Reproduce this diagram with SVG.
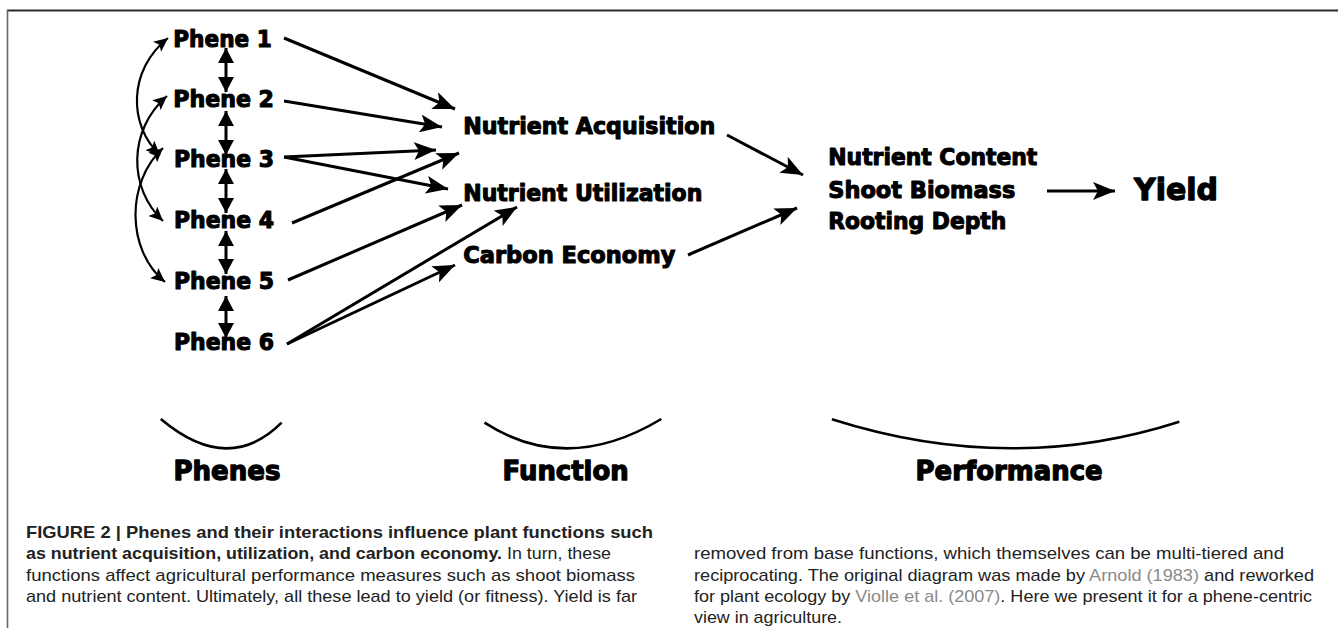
<svg xmlns="http://www.w3.org/2000/svg" width="1338" height="628" viewBox="0 0 1338 628">
<style>
.n{font-family:"DejaVu Sans","Liberation Sans",sans-serif;font-weight:bold;font-size:23px;fill:#000;stroke:#000;stroke-width:1.1;stroke-linejoin:round}
.y{font-size:30px;stroke-width:1.3}
.b{font-size:27px;stroke-width:1.3}
.c{font-family:"Liberation Sans","Noto Sans",sans-serif;font-size:17px;fill:#222}
.cb{font-weight:bold}
.lk{fill:#8a8a8a}
.a{fill:none;stroke:#000;stroke-width:3;marker-end:url(#ah)}
.d{fill:none;stroke:#000;stroke-width:3;marker-start:url(#dh);marker-end:url(#dh)}
.cv{fill:none;stroke:#000;stroke-width:2.2;marker-start:url(#ch);marker-end:url(#ch)}
.br{fill:none;stroke:#000;stroke-width:2.6}
</style>
<defs>
<marker id="ah" viewBox="0 0 22 18" refX="22" refY="9" markerWidth="22" markerHeight="18" markerUnits="userSpaceOnUse" orient="auto"><path d="M0,0 L22,9 L0,18 L5,9 z" fill="#000"/></marker>
<marker id="dh" viewBox="0 0 15 16" refX="15" refY="8" markerWidth="15" markerHeight="16" markerUnits="userSpaceOnUse" orient="auto-start-reverse"><path d="M0,0 L15,8 L0,16 z" fill="#000"/></marker>
<marker id="ch" viewBox="0 0 14 13" refX="14" refY="6.5" markerWidth="14" markerHeight="13" markerUnits="userSpaceOnUse" orient="auto-start-reverse"><path d="M0,0 L14,6.5 L0,13 L3,6.5 z" fill="#000"/></marker>
</defs>
<g id="frame" fill="none">
<line x1="7" y1="10.5" x2="1338" y2="10.5" stroke="#2a2a2a" stroke-width="1.8"/>
<line x1="7.5" y1="10" x2="7.5" y2="628" stroke="#666" stroke-width="1.6"/>
</g>
<g id="connectors">
<path class="cv" d="M168,38 C128,70 128,125 160,155"/>
<path class="cv" d="M167,96 C128,130 128,188 163,221"/>
<path class="cv" d="M163,148 C126,182 126,250 165,282"/>
<line class="d" x1="226" y1="48" x2="226" y2="92"/>
<line class="d" x1="226" y1="111" x2="226" y2="155"/>
<line class="d" x1="226" y1="169" x2="226" y2="213"/>
<line class="d" x1="226" y1="231" x2="226" y2="274"/>
<line class="d" x1="226" y1="296" x2="226" y2="338"/>
<line class="a" x1="284" y1="38" x2="455" y2="109"/>
<line class="a" x1="284" y1="101" x2="442" y2="127"/>
<line class="a" x1="284" y1="157" x2="436" y2="150"/>
<line class="a" x1="284" y1="157" x2="448" y2="189"/>
<line class="a" x1="292" y1="223" x2="459" y2="153"/>
<line class="a" x1="288" y1="280" x2="462" y2="205"/>
<line class="a" x1="287" y1="344" x2="517" y2="207"/>
<line class="a" x1="287" y1="344" x2="455" y2="265"/>
<line class="a" x1="727" y1="135" x2="803" y2="175"/>
<line class="a" x1="688" y1="255" x2="797" y2="208"/>
<line class="a" x1="1047" y1="191" x2="1115" y2="191"/>
</g>
<g id="phene1"><text class="n" x="173.3" y="46.5" textLength="98.4" lengthAdjust="spacingAndGlyphs">Phene 1</text></g>
<g id="phene2"><text class="n" x="173.3" y="107" textLength="100.7" lengthAdjust="spacingAndGlyphs">Phene 2</text></g>
<g id="phene3"><text class="n" x="174" y="166.5" textLength="100" lengthAdjust="spacingAndGlyphs">Phene 3</text></g>
<g id="phene4"><text class="n" x="174" y="228" textLength="100" lengthAdjust="spacingAndGlyphs">Phene 4</text></g>
<g id="phene5"><text class="n" x="174" y="289" textLength="100" lengthAdjust="spacingAndGlyphs">Phene 5</text></g>
<g id="phene6"><text class="n" x="174" y="350" textLength="100" lengthAdjust="spacingAndGlyphs">Phene 6</text></g>
<g id="nutrient-acquisition"><text class="n" x="463.3" y="134.3" textLength="252" lengthAdjust="spacingAndGlyphs">Nutrient Acquisition</text></g>
<g id="nutrient-utilization"><text class="n" x="463.3" y="201" textLength="239" lengthAdjust="spacingAndGlyphs">Nutrient Utilization</text></g>
<g id="carbon-economy"><text class="n" x="463.3" y="263.3" textLength="212" lengthAdjust="spacingAndGlyphs">Carbon Economy</text></g>
<g id="performance-measures">
<text class="n" x="828.3" y="165" textLength="209" lengthAdjust="spacingAndGlyphs">Nutrient Content</text>
<text class="n" x="828.3" y="197.7" textLength="187" lengthAdjust="spacingAndGlyphs">Shoot Biomass</text>
<text class="n" x="828.3" y="229.3" textLength="178" lengthAdjust="spacingAndGlyphs">Rooting Depth</text>
</g>
<g id="yield"><text class="n y" x="1134" y="200" textLength="84" lengthAdjust="spacingAndGlyphs">Yield</text></g>
<g id="group-phenes">
<path class="br" d="M160.8,419 Q228.2,475.8 281.6,422.7"/>
<text class="n b" x="173.4" y="480" textLength="107" lengthAdjust="spacingAndGlyphs">Phenes</text>
</g>
<g id="group-function">
<path class="br" d="M484.5,422.7 Q566.7,475.8 661.3,419"/>
<text class="n b" x="502.6" y="480" textLength="126" lengthAdjust="spacingAndGlyphs">Function</text>
</g>
<g id="group-performance">
<path class="br" d="M831.9,419.3 Q1010.4,476.1 1179.3,421.7"/>
<text class="n b" x="915.6" y="480" textLength="187" lengthAdjust="spacingAndGlyphs">Performance</text>
</g>
<g id="caption">
<text class="c cb" x="26" y="538" textLength="627" lengthAdjust="spacingAndGlyphs">FIGURE 2 | Phenes and their interactions influence plant functions such</text>
<text class="c" x="26" y="559" textLength="585" lengthAdjust="spacingAndGlyphs"><tspan class="cb">as nutrient acquisition, utilization, and carbon economy.</tspan> In turn, these</text>
<text class="c" x="26" y="580.5" textLength="609" lengthAdjust="spacingAndGlyphs">functions affect agricultural performance measures such as shoot biomass</text>
<text class="c" x="26" y="602" textLength="611" lengthAdjust="spacingAndGlyphs">and nutrient content. Ultimately, all these lead to yield (or fitness). Yield is far</text>
<text class="c" x="694" y="559" textLength="590" lengthAdjust="spacingAndGlyphs">removed from base functions, which themselves can be multi-tiered and</text>
<text class="c" x="694" y="580.5" textLength="620" lengthAdjust="spacingAndGlyphs">reciprocating. The original diagram was made by <tspan class="lk">Arnold (1983)</tspan> and reworked</text>
<text class="c" x="694" y="602" textLength="618" lengthAdjust="spacingAndGlyphs">for plant ecology by <tspan class="lk">Violle et al. (2007)</tspan>. Here we present it for a phene-centric</text>
<text class="c" x="694" y="623" textLength="148" lengthAdjust="spacingAndGlyphs">view in agriculture.</text>
</g>
</svg>
